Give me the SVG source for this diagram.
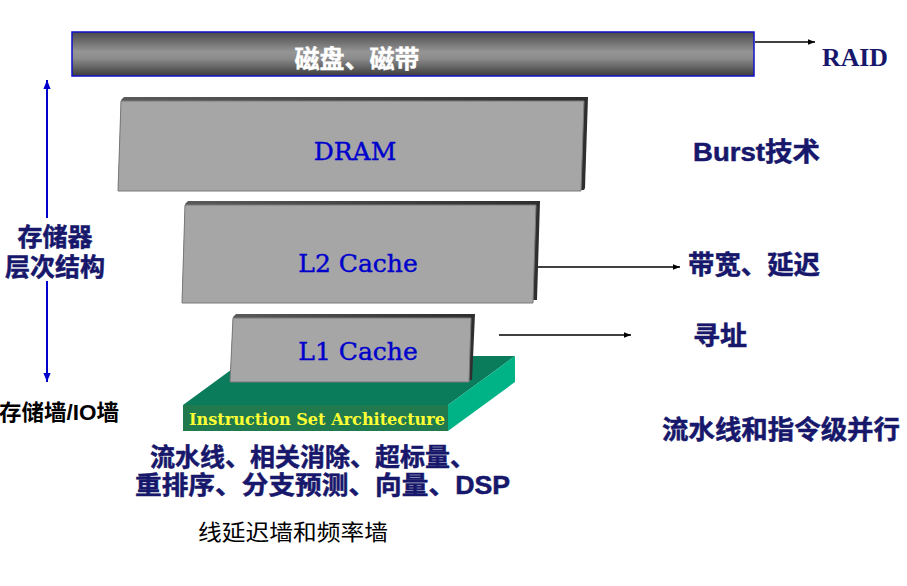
<svg xmlns="http://www.w3.org/2000/svg" width="907" height="586" viewBox="0 0 907 586">
<defs>
<linearGradient id="barG" x1="0" y1="0" x2="0" y2="1">
<stop offset="0" stop-color="#4a4a4a"/>
<stop offset="0.45" stop-color="#959595"/>
<stop offset="0.6" stop-color="#8c8c8c"/>
<stop offset="1" stop-color="#3c3c3c"/>
</linearGradient>
<linearGradient id="edgeG" x1="0" y1="0" x2="1" y2="0">
<stop offset="0" stop-color="#5a5a5a"/>
<stop offset="1" stop-color="#2e2e2e"/>
</linearGradient>
<marker id="ah" viewBox="0 0 10 10" refX="10" refY="5" markerWidth="7" markerHeight="7" orient="auto" markerUnits="userSpaceOnUse">
<path d="M0,1 L10,5 L0,9 z" fill="#000"/>
</marker>
<marker id="bh" viewBox="0 0 10 10" refX="10" refY="5" markerWidth="9" markerHeight="9" orient="auto-start-reverse" markerUnits="userSpaceOnUse">
<path d="M0,1 L10,5 L0,9 z" fill="#0000cc"/>
</marker>
</defs>
<style>
.back{fill:url(#edgeG);}
.face{fill:#a6a6a6;stroke:#7a7a7a;stroke-width:1;}
.lbl{font-family:"DejaVu Serif","Liberation Serif",serif;font-size:25px;fill:#0000cc;stroke:#0000cc;stroke-width:0.4;text-anchor:middle;}
.navy{font-family:"Liberation Sans","Noto Sans CJK SC",sans-serif;font-weight:bold;fill:#17176b;stroke:#17176b;stroke-width:0.5;}
.blk{font-family:"Liberation Sans","Noto Sans CJK SC",sans-serif;fill:#000;}
.conn{stroke:#000;stroke-width:1.3;fill:none;marker-end:url(#ah);}
</style>

<g id="disk">
<rect x="72" y="32" width="682" height="44" fill="url(#barG)" stroke="#1010c8" stroke-width="1.5"/>
<text x="357" y="68" font-family="'Noto Sans CJK SC',sans-serif" font-weight="bold" font-size="25" fill="#ffffff" stroke="#ffffff" stroke-width="0.4" text-anchor="middle">磁盘、磁带</text>
</g>

<g id="dram">
<polygon class="back" points="124,97 588,97 585,188 584,190 118,191 121,100"/>
<polygon class="face" points="121,101 584,101 581,191 118,191"/>
<text class="lbl" x="355" y="160">DRAM</text>
</g>

<g id="l2">
<polygon class="back" points="188,201 540,201 537,300 182,303 185,204"/>
<polygon class="face" points="185,205 536,205 533,303 182,303"/>
<text class="lbl" x="358" y="272">L2 Cache</text>
</g>

<g id="isa">
<polygon points="183,405 250,356 515,356 448,405" fill="#0a7b5b"/>
<polygon points="448,405 515,356 515,382 448,431" fill="#00b386"/>
<rect x="183" y="405" width="265" height="26" fill="#217a4e"/>
<text x="189" y="425" font-family="'DejaVu Serif','Liberation Serif',serif" font-weight="bold" font-size="16" fill="#ffff33" textLength="256" lengthAdjust="spacingAndGlyphs">Instruction Set Architecture</text>
</g>

<g id="l1">
<polygon class="back" points="236,314 475,314 472,380 230,382 233,317"/>
<polygon class="face" points="233,318 471,318 469,382 230,382"/>
<text class="lbl" x="358" y="360">L1 Cache</text>
</g>

<g id="hierarchy">
<line x1="47" y1="80" x2="47" y2="218" stroke="#0000cc" stroke-width="2" marker-start="url(#bh)"/>
<line x1="47" y1="281" x2="47" y2="382" stroke="#0000cc" stroke-width="2" marker-end="url(#bh)"/>
<text class="navy" x="55" y="246" font-size="25" text-anchor="middle">存储器</text>
<text class="navy" x="55" y="276" font-size="25" text-anchor="middle">层次结构</text>
<text class="blk" x="-1" y="420" font-size="22" font-weight="bold" textLength="120" lengthAdjust="spacingAndGlyphs">存储墙/IO墙</text>
</g>

<g id="labels">
<text x="855" y="66" font-family="'Liberation Serif',serif" font-weight="bold" font-size="26" fill="#17176b" text-anchor="middle" textLength="66" lengthAdjust="spacingAndGlyphs">RAID</text>
<text class="navy" x="693" y="161" font-size="26" textLength="127" lengthAdjust="spacingAndGlyphs">Burst技术</text>
<text class="navy" x="688" y="274" font-size="26" textLength="132" lengthAdjust="spacingAndGlyphs">带宽、延迟</text>
<text class="navy" x="693" y="345" font-size="26" textLength="54" lengthAdjust="spacingAndGlyphs">寻址</text>
<text class="navy" x="662" y="439" font-size="26" textLength="238" lengthAdjust="spacingAndGlyphs">流水线和指令级并行</text>
<text class="navy" x="150" y="466" font-size="25" textLength="325" lengthAdjust="spacingAndGlyphs">流水线、相关消除、超标量、</text>
<text class="navy" x="135" y="494" font-size="25" textLength="375" lengthAdjust="spacingAndGlyphs">重排序、分支预测、向量、DSP</text>
<text class="blk" x="198" y="540" font-size="22" textLength="190" lengthAdjust="spacingAndGlyphs">线延迟墙和频率墙</text>
</g>

<g id="connectors">
<line class="conn" x1="755" y1="42" x2="815" y2="42"/>
<line class="conn" x1="538" y1="267" x2="680" y2="267"/>
<line class="conn" x1="499" y1="335" x2="631" y2="335"/>
</g>
</svg>
